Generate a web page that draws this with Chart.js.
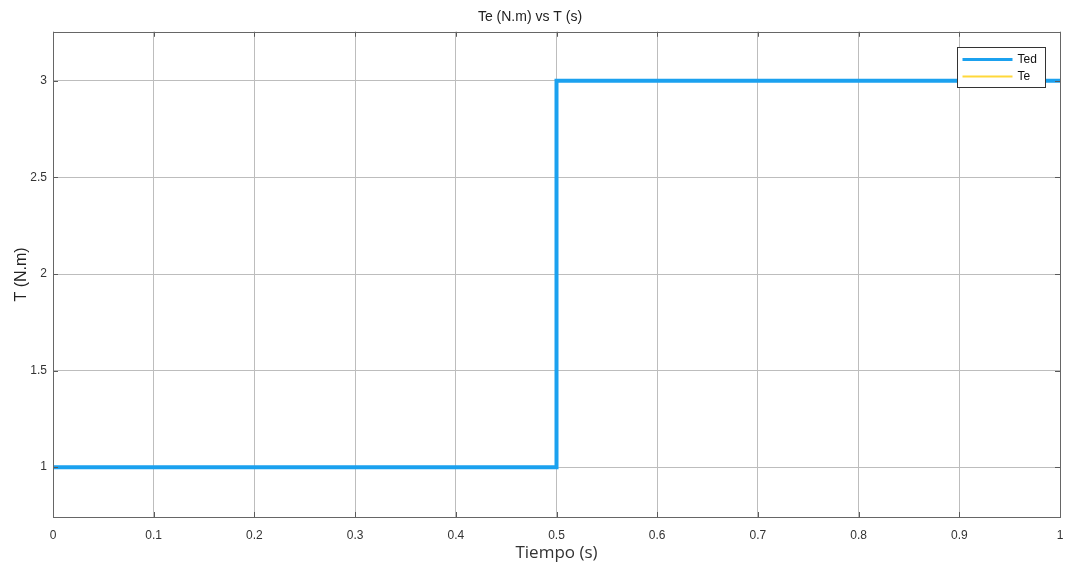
<!DOCTYPE html>
<html>
<head>
<meta charset="utf-8">
<script src="https://cdn.jsdelivr.net/npm/chart.js@4"></script>
<style>
  html, body { margin: 0; padding: 0; background: #fff; }
  #wrap { width: 1068px; height: 567px; }
</style>
</head>
<body>
<div id="wrap"><canvas id="js-step-chart" width="1068" height="567"></canvas></div>
<script>
// Chart data
const tiempo = [0, 0.5, 0.5, 1];
const ted = [1, 1, 3, 3];
const te = [1, 1, 3, 3];
const xTicks = [0, 0.1, 0.2, 0.3, 0.4, 0.5, 0.6, 0.7, 0.8, 0.9, 1];
const yTicks = [1, 1.5, 2, 2.5, 3];

const toPoints = (xs, ys) => xs.map((x, i) => ({ x: x, y: ys[i] }));

// Frame, inner tick marks and legend box drawn on top of the plot
const framePlugin = {
  id: 'frame',
  afterDatasetsDraw(chart) {
    const ctx = chart.ctx;
    const a = chart.chartArea;
    const xs = chart.scales.x;
    const ys = chart.scales.y;
    ctx.save();
    ctx.strokeStyle = '#5a5a5a';
    ctx.lineWidth = 1;
    ctx.beginPath();
    xTicks.forEach(v => {
      const px = Math.round(xs.getPixelForValue(v)) + 0.5;
      ctx.moveTo(px, a.bottom); ctx.lineTo(px, a.bottom - 5);
      ctx.moveTo(px, a.top); ctx.lineTo(px, a.top + 5);
    });
    yTicks.forEach(v => {
      const py = Math.round(ys.getPixelForValue(v)) + 0.5;
      ctx.moveTo(a.left, py); ctx.lineTo(a.left + 5, py);
      ctx.moveTo(a.right, py); ctx.lineTo(a.right - 5, py);
    });
    ctx.stroke();
    ctx.strokeStyle = '#666';
    ctx.strokeRect(Math.round(a.left) + 0.5, Math.round(a.top) + 0.5,
      Math.round(a.right - a.left), Math.round(a.bottom - a.top));

    // legend
    const bx = 957.5, by = 47.5, bw = 88, bh = 40;
    ctx.fillStyle = '#fff';
    ctx.fillRect(bx, by, bw, bh);
    ctx.strokeStyle = '#333';
    ctx.strokeRect(bx, by, bw, bh);
    ctx.font = '12px "Liberation Sans", Arial, sans-serif';
    ctx.textBaseline = 'middle';
    chart.data.datasets.forEach((ds, i) => {
      const y = by + 12 + i * 17;
      ctx.strokeStyle = ds.borderColor;
      ctx.lineWidth = i === 0 ? 3 : 2;
      ctx.beginPath();
      ctx.moveTo(bx + 5, y); ctx.lineTo(bx + 55, y);
      ctx.stroke();
      ctx.fillStyle = '#111';
      ctx.fillText(ds.label, bx + 60, y);
    });
    ctx.restore();
  }
};

const config = {
  type: 'line',
  data: {
    datasets: [
      {
        label: 'Ted',
        data: toPoints(tiempo, ted),
        borderColor: '#1ba1ef',
        borderWidth: 4,
        pointRadius: 0,
        order: 0,
      },
      {
        label: 'Te',
        data: toPoints(tiempo, te),
        borderColor: '#ffd83a',
        borderWidth: 2,
        pointRadius: 0,
        order: 1,
      },
    ],
  },
  options: {
    responsive: false,
    animation: false,
    layout: { padding: { left: 0, right: 8, top: 0, bottom: 0 } },
    plugins: {
      legend: { display: false },
      tooltip: { enabled: false },
      title: {
        display: true,
        text: 'Te (N.m) vs T (s)',
        color: '#222',
        font: { family: '"Liberation Sans", Arial, sans-serif', size: 14, weight: 'normal' },
        padding: { top: 9, bottom: 6 },
      },
    },
    scales: {
      x: {
        type: 'linear',
        min: 0,
        max: 1,
        afterBuildTicks: (s) => { s.ticks = xTicks.map(v => ({ value: v })); },
        afterFit: (s) => { s.height = 50; s.paddingLeft = 0; s.paddingRight = 0; },
        grid: { color: '#bdbdbd', tickLength: 0, drawTicks: false },
        border: { display: false },
        ticks: {
          color: '#333',
          padding: 11,
          maxRotation: 0,
          font: { family: '"Liberation Sans", Arial, sans-serif', size: 12 },
          callback: (v) => String(v),
        },
        title: {
          display: true,
          text: 'Tiempo (s)',
          color: '#333',
          padding: { top: 0, bottom: 4 },
          font: { family: '"Open Sans", "Noto Sans", sans-serif', size: 17 },
        },
      },
      y: {
        type: 'linear',
        min: 0.742,
        max: 3.254,
        afterBuildTicks: (s) => { s.ticks = yTicks.map(v => ({ value: v })); },
        afterFit: (s) => { s.width = 53; s.paddingTop = 0; s.paddingBottom = 0; },
        grid: { color: '#bdbdbd', tickLength: 0, drawTicks: false },
        border: { display: false },
        ticks: {
          color: '#333',
          padding: 6,
          font: { family: '"Liberation Sans", Arial, sans-serif', size: 12 },
          callback: (v) => String(v),
        },
        title: {
          display: true,
          text: 'T (N.m)',
          color: '#222',
          padding: { top: 12, bottom: 0 },
          font: { family: '"Liberation Sans", Arial, sans-serif', size: 16 },
        },
      },
    },
  },
  plugins: [framePlugin],
};

const stepChart = new Chart(document.getElementById('js-step-chart').getContext('2d'), config);
</script>
</body>
</html>
